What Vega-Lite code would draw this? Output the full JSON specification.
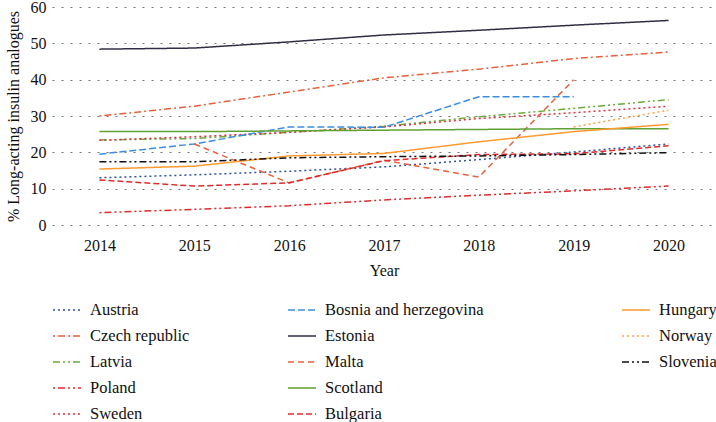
{
  "$schema": "https://vega.github.io/schema/vega-lite/v6.json",
  "width": 664,
  "height": 218,
  "autosize": "none",
  "padding": {"left": 52, "top": 7, "right": 0, "bottom": 197},
  "background": "white",
  "config": {
    "view": {"stroke": null},
    "font": "Liberation Serif",
    "axis": {"labelFont": "Liberation Serif", "titleFont": "Liberation Serif", "labelColor": "#111", "titleColor": "#111", "titleFontWeight": "normal", "domain": false, "ticks": false},
    "legend": {"labelFont": "Liberation Serif", "labelFontSize": 16.5, "labelColor": "#111", "padding": 0}
  },
  "data": {
    "values": [
      {"country": "Austria", "year": "2014", "value": 13.0},
      {"country": "Austria", "year": "2015", "value": 13.8},
      {"country": "Austria", "year": "2016", "value": 14.8},
      {"country": "Austria", "year": "2017", "value": 16.0},
      {"country": "Austria", "year": "2018", "value": 18.0},
      {"country": "Austria", "year": "2019", "value": 20.1},
      {"country": "Austria", "year": "2020", "value": 22.3},
      {"country": "Czech republic", "year": "2014", "value": 30.0},
      {"country": "Czech republic", "year": "2015", "value": 32.7},
      {"country": "Czech republic", "year": "2016", "value": 36.6},
      {"country": "Czech republic", "year": "2017", "value": 40.5},
      {"country": "Czech republic", "year": "2018", "value": 42.9},
      {"country": "Czech republic", "year": "2019", "value": 45.8},
      {"country": "Czech republic", "year": "2020", "value": 47.6},
      {"country": "Latvia", "year": "2014", "value": 23.4},
      {"country": "Latvia", "year": "2015", "value": 23.8},
      {"country": "Latvia", "year": "2016", "value": 25.5},
      {"country": "Latvia", "year": "2017", "value": 27.2},
      {"country": "Latvia", "year": "2018", "value": 29.8},
      {"country": "Latvia", "year": "2019", "value": 32.1},
      {"country": "Latvia", "year": "2020", "value": 34.5},
      {"country": "Poland", "year": "2014", "value": 3.4},
      {"country": "Poland", "year": "2015", "value": 4.3},
      {"country": "Poland", "year": "2016", "value": 5.3},
      {"country": "Poland", "year": "2017", "value": 6.9},
      {"country": "Poland", "year": "2018", "value": 8.2},
      {"country": "Poland", "year": "2019", "value": 9.4},
      {"country": "Poland", "year": "2020", "value": 10.7},
      {"country": "Sweden", "year": "2014", "value": 23.3},
      {"country": "Sweden", "year": "2015", "value": 24.3},
      {"country": "Sweden", "year": "2016", "value": 25.5},
      {"country": "Sweden", "year": "2017", "value": 27.0},
      {"country": "Sweden", "year": "2018", "value": 29.3},
      {"country": "Sweden", "year": "2019", "value": 30.9},
      {"country": "Sweden", "year": "2020", "value": 32.7},
      {"country": "Bosnia and herzegovina", "year": "2014", "value": 19.5},
      {"country": "Bosnia and herzegovina", "year": "2015", "value": 22.3},
      {"country": "Bosnia and herzegovina", "year": "2016", "value": 27.0},
      {"country": "Bosnia and herzegovina", "year": "2017", "value": 26.9},
      {"country": "Bosnia and herzegovina", "year": "2018", "value": 35.3},
      {"country": "Bosnia and herzegovina", "year": "2019", "value": 35.3},
      {"country": "Estonia", "year": "2014", "value": 48.4},
      {"country": "Estonia", "year": "2015", "value": 48.7},
      {"country": "Estonia", "year": "2016", "value": 50.4},
      {"country": "Estonia", "year": "2017", "value": 52.3},
      {"country": "Estonia", "year": "2018", "value": 53.6},
      {"country": "Estonia", "year": "2019", "value": 55.0},
      {"country": "Estonia", "year": "2020", "value": 56.3},
      {"country": "Malta", "year": "2015", "value": 22.3},
      {"country": "Malta", "year": "2016", "value": 11.6},
      {"country": "Malta", "year": "2017", "value": 17.8},
      {"country": "Malta", "year": "2018", "value": 13.2},
      {"country": "Malta", "year": "2019", "value": 40.0},
      {"country": "Scotland", "year": "2014", "value": 25.7},
      {"country": "Scotland", "year": "2015", "value": 25.7},
      {"country": "Scotland", "year": "2016", "value": 25.9},
      {"country": "Scotland", "year": "2017", "value": 26.1},
      {"country": "Scotland", "year": "2018", "value": 26.3},
      {"country": "Scotland", "year": "2019", "value": 26.5},
      {"country": "Scotland", "year": "2020", "value": 26.5},
      {"country": "Bulgaria", "year": "2014", "value": 12.4},
      {"country": "Bulgaria", "year": "2015", "value": 10.7},
      {"country": "Bulgaria", "year": "2016", "value": 11.6},
      {"country": "Bulgaria", "year": "2017", "value": 17.7},
      {"country": "Bulgaria", "year": "2018", "value": 19.4},
      {"country": "Bulgaria", "year": "2019", "value": 19.6},
      {"country": "Bulgaria", "year": "2020", "value": 21.8},
      {"country": "Hungary", "year": "2014", "value": 15.4},
      {"country": "Hungary", "year": "2015", "value": 16.2},
      {"country": "Hungary", "year": "2016", "value": 19.0},
      {"country": "Hungary", "year": "2017", "value": 19.7},
      {"country": "Hungary", "year": "2018", "value": 22.9},
      {"country": "Hungary", "year": "2019", "value": 25.7},
      {"country": "Hungary", "year": "2020", "value": 27.7},
      {"country": "Norway", "year": "2019", "value": 27.0},
      {"country": "Norway", "year": "2020", "value": 31.6},
      {"country": "Slovenia", "year": "2014", "value": 17.4},
      {"country": "Slovenia", "year": "2015", "value": 17.4},
      {"country": "Slovenia", "year": "2016", "value": 18.5},
      {"country": "Slovenia", "year": "2017", "value": 18.8},
      {"country": "Slovenia", "year": "2018", "value": 19.0},
      {"country": "Slovenia", "year": "2019", "value": 19.4},
      {"country": "Slovenia", "year": "2020", "value": 19.9}
    ]
  },
  "encoding": {
    "x": {"field": "year", "type": "ordinal", "scale": {"type": "point", "padding": 0.5},
      "axis": {"title": "Year", "labelAngle": 0, "labelFontSize": 16, "titleFontSize": 16, "labelPadding": 12, "titlePadding": 9, "grid": false}},
    "y": {"field": "value", "type": "quantitative", "scale": {"domain": [0, 60], "nice": false},
      "axis": {"title": "% Long-acting insulin analogues", "values": [0, 10, 20, 30, 40, 50, 60], "labelFontSize": 16, "titleFontSize": 16, "labelPadding": 6, "titlePadding": 9,
        "grid": true, "gridDash": [2, 7], "gridColor": "#777", "gridWidth": 1.2}}
  },
  "layer": [
    {
      "transform": [{"filter": {"field": "country", "oneOf": ["Austria", "Czech republic", "Latvia", "Poland", "Sweden"]}}],
      "mark": {"type": "line", "strokeWidth": 1.5},
      "encoding": {
        "color": {"field": "country", "type": "nominal",
          "scale": {"domain": ["Austria", "Czech republic", "Latvia", "Poland", "Sweden"], "range": ["#2F51A3", "#E8603C", "#6BAA3C", "#E02B2B", "#E0303A"]},
          "legend": {"title": null, "orient": "none", "legendX": 0, "legendY": 288, "symbolSize": 784, "symbolStrokeWidth": 1.5, "rowPadding": 2, "labelOffset": 8}},
        "strokeDash": {"field": "country", "type": "nominal",
          "scale": {"domain": ["Austria", "Czech republic", "Latvia", "Poland", "Sweden"], "range": [[2, 3], [2, 3, 7, 3], [7, 3, 2, 3, 2, 3], [2, 3, 7, 3, 2, 3], [2, 3]]},
          "legend": {"title": null, "orient": "none", "legendX": 0, "legendY": 288, "symbolSize": 784, "symbolStrokeWidth": 1.5, "rowPadding": 2, "labelOffset": 8}}
      }
    },
    {
      "transform": [{"filter": {"field": "country", "oneOf": ["Bosnia and herzegovina", "Estonia", "Malta", "Scotland", "Bulgaria"]}}],
      "mark": {"type": "line", "strokeWidth": 1.5},
      "encoding": {
        "color": {"field": "country", "type": "nominal",
          "scale": {"domain": ["Bosnia and herzegovina", "Estonia", "Malta", "Scotland", "Bulgaria"], "range": ["#3A8EE0", "#2E2F45", "#E8603C", "#5FA033", "#E02B2B"]},
          "legend": {"title": null, "orient": "none", "legendX": 235, "legendY": 288, "symbolSize": 784, "symbolStrokeWidth": 1.5, "rowPadding": 2, "labelOffset": 8}},
        "strokeDash": {"field": "country", "type": "nominal",
          "scale": {"domain": ["Bosnia and herzegovina", "Estonia", "Malta", "Scotland", "Bulgaria"], "range": [[7, 3], [1, 0], [6, 4], [1, 0], [6, 3]]},
          "legend": {"title": null, "orient": "none", "legendX": 235, "legendY": 288, "symbolSize": 784, "symbolStrokeWidth": 1.5, "rowPadding": 2, "labelOffset": 8}}
      }
    },
    {
      "transform": [{"filter": {"field": "country", "oneOf": ["Hungary", "Norway", "Slovenia"]}}],
      "mark": {"type": "line", "strokeWidth": 1.5},
      "encoding": {
        "color": {"field": "country", "type": "nominal",
          "scale": {"domain": ["Hungary", "Norway", "Slovenia"], "range": ["#FF9A2E", "#FFA040", "#111111"]},
          "legend": {"title": null, "orient": "none", "legendX": 569, "legendY": 288, "symbolSize": 784, "symbolStrokeWidth": 1.5, "rowPadding": 2, "labelOffset": 8}},
        "strokeDash": {"field": "country", "type": "nominal",
          "scale": {"domain": ["Hungary", "Norway", "Slovenia"], "range": [[1, 0], [2, 3], [7, 3, 2, 3, 2, 3]]},
          "legend": {"title": null, "orient": "none", "legendX": 569, "legendY": 288, "symbolSize": 784, "symbolStrokeWidth": 1.5, "rowPadding": 2, "labelOffset": 8}}
      }
    }
  ],
  "resolve": {"scale": {"color": "independent", "strokeDash": "independent"}}
}
